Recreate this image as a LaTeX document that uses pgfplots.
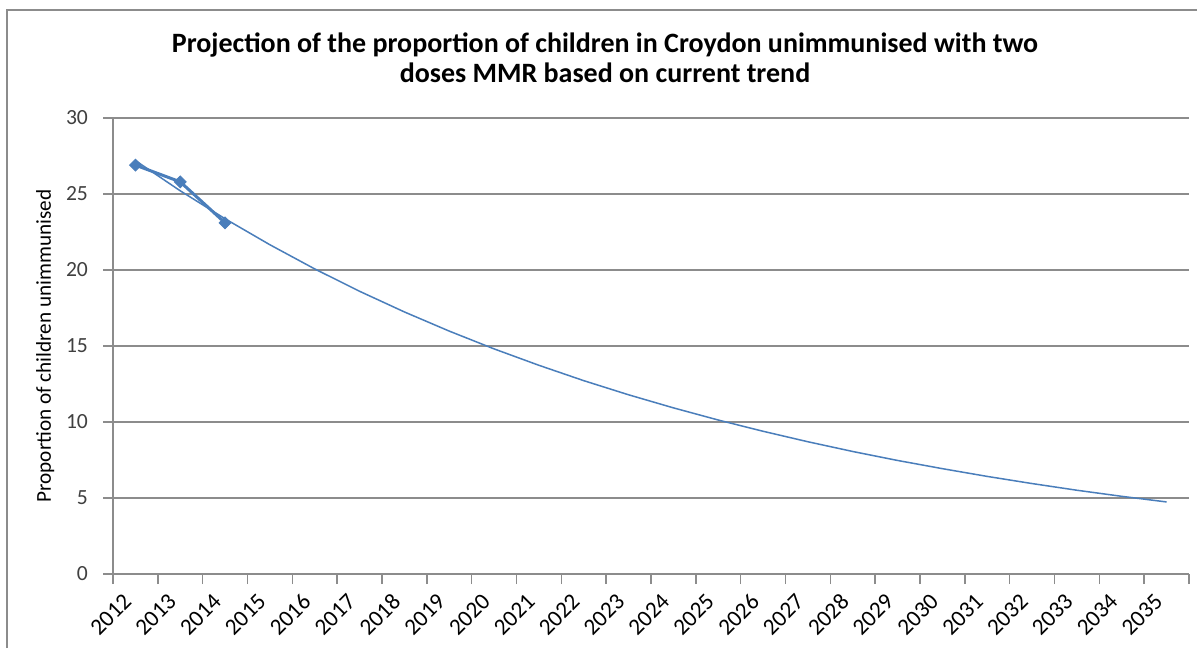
\documentclass[border=0pt]{standalone}
\usepackage{fontspec}
\setmainfont{Carlito}
\usepackage{pgfplots}
\pgfplotsset{compat=1.18}

\definecolor{serie}{HTML}{4A7EBB}
\definecolor{gridgray}{HTML}{8C8C8C}
\definecolor{txt}{HTML}{404040}

\begin{document}
\begin{tikzpicture}
\useasboundingbox (0pt,0pt) rectangle (598.5pt,324pt);
\fill[white] (0pt,0pt) rectangle (598.5pt,324pt);
% chart border (left and top visible)
\draw[gridgray, line width=1.2pt] (3.5pt,0pt) -- (3.5pt,319pt) -- (598.5pt,319pt);

% title, two lines
\node[anchor=base, font=\bfseries\fontsize{14pt}{15pt}\selectfont]
  at (302.5pt,297.5pt) {Projection of the proportion of children in Croydon unimmunised with two};
\node[anchor=base, font=\bfseries\fontsize{14pt}{15pt}\selectfont]
  at (302.5pt,282.5pt) {doses MMR based on current trend};

\begin{axis}[
    at={(56.5pt,37pt)}, anchor=south west,
    scale only axis,
    width=538pt, height=228pt,
    xmin=0.5, xmax=24.5,
    ymin=0, ymax=30,
    ytick={0,5,...,30},
    xtick={1,...,24},
    xticklabels={2012,2013,2014,2015,2016,2017,2018,2019,2020,2021,2022,2023,
                 2024,2025,2026,2027,2028,2029,2030,2031,2032,2033,2034,2035},
    minor xtick={0.5,1.5,...,24.5},
    major x tick style={draw=none},
    axis x line*=bottom,
    axis y line*=left,
    axis line style={gridgray, line width=0.8pt},
    tick style={gridgray, line width=0.8pt},
    tick align=outside,
    major tick length=5pt,
    minor tick length=5pt,
    ymajorgrids=true,
    grid style={gridgray, line width=0.6pt},
    /pgf/number format/assume math mode=true,
    tick label style={font=\fontsize{10.8pt}{12pt}\selectfont, text=txt},
    x tick label style={font=\fontsize{11.6pt}{12pt}\selectfont, text=black,
                        xshift=-1.5pt, yshift=-4.5pt, rotate=45, anchor=east},
    yticklabel style={xshift=-4pt},
    ylabel={Proportion of children unimmunised},
    ylabel style={at={(axis description cs:-0.063,0.5)}, anchor=center,
                  font=\fontsize{10.6pt}{12pt}\selectfont, text=black},
    clip=false,
]
% trend line (exponential projection, values read per year)
\addplot[serie, line width=0.75pt, no marks] coordinates {
(1,27.20)(2,25.21)(3,23.37)(4,21.66)(5,20.07)(6,18.60)(7,17.24)(8,15.98)
(9,14.81)(10,13.73)(11,12.72)(12,11.79)(13,10.93)(14,10.13)(15,9.39)(16,8.70)
(17,8.06)(18,7.47)(19,6.93)(20,6.42)(21,5.95)(22,5.51)(23,5.11)(24,4.74)
};
% observed values
\addplot[serie, line width=1.5pt, mark=square*, mark size=2.1pt,
         mark options={solid, fill=serie, line width=0.4pt, rotate=45}] coordinates {
(1,26.9)(2,25.8)(3,23.1)
};
\end{axis}
\end{tikzpicture}
\end{document}
